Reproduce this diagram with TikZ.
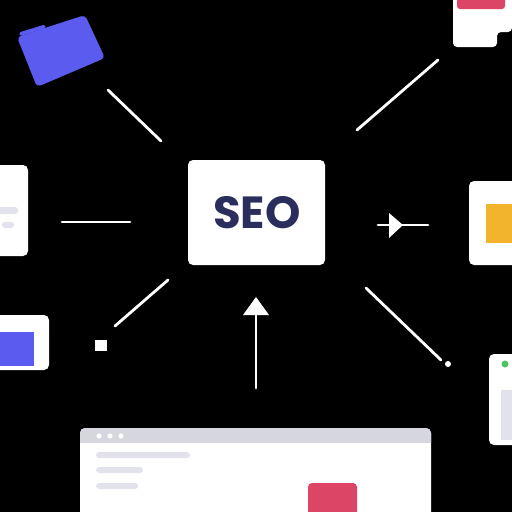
\documentclass[tikz,border=0pt]{standalone}
\usepackage{fontspec}
\setmainfont{Poppins}
\begin{document}
\begin{tikzpicture}[x=1pt,y=-1pt,
  conn/.style={draw=white,line width=2.8pt,line cap=round},
  card/.style={fill=white,rounded corners=5pt},
  bar/.style={fill=barg,rounded corners=3pt}]
\definecolor{folderblue}{HTML}{5B5CEF}
\definecolor{pinkr}{HTML}{DC4566}
\definecolor{navy}{HTML}{2B2E5C}
\definecolor{yell}{HTML}{F1B42C}
\definecolor{barg}{HTML}{E2E2EC}
\definecolor{headg}{HTML}{D6D6DE}
\definecolor{greenc}{HTML}{4CC462}
\useasboundingbox (0,0) rectangle (512,512);
\fill[black] (0,0) rectangle (512,512);
% folder
\fill[folderblue,rounded corners=4pt] (17,37) -- (85,15) -- (105,58) -- (37,87) -- cycle;
\fill[folderblue,rounded corners=1.5pt] (20,36) -- (46,28) -- (44.8,24.5) -- (19,32.5) -- cycle;
% top-right card
\fill[white,rounded corners=4pt] (453,-6) -- (512,-6) -- (512,32) -- (497,32) -- (497,47) -- (453,47) -- cycle;
\fill[pinkr,rounded corners=3pt] (457,-4) rectangle (505,9);
% left middle card
\fill[card] (-10,165) rectangle (28,256);
\fill[bar] (-4,207) rectangle (18,214);
\fill[bar] (2,222) rectangle (14,228);
% right card
\fill[card] (469,181) rectangle (520,265);
\fill[yell] (486,204) rectangle (512,243);
% right bottom card
\fill[card] (489,354) rectangle (520,445);
\fill[greenc] (505,364) circle (3.5pt);
\fill[barg] (501,390) rectangle (512,440);
% left bottom card
\fill[card] (-10,315) rectangle (49,370);
\fill[folderblue] (-2,332) rectangle (34,366);
% SEO box
\node[fill=white,rounded corners=5pt,minimum width=137pt,minimum height=105pt,inner sep=0pt] (seo) at (256.5,212.5) {};
\node[text=navy,font=\fontsize{45}{45}\selectfont\bfseries,inner sep=0pt] (seotext) at (257,213) {SEO};
% connectors
\coordinate (a1) at (108,90); \coordinate (a2) at (161,141);
\draw[conn] (a1) -- (a2);
\coordinate (b1) at (357,130); \coordinate (b2) at (438,60);
\draw[conn] (b1) -- (b2);
\coordinate (c1) at (62,222); \coordinate (c2) at (130,222);
\draw[conn] (c1) -- (c2);
\coordinate (d1) at (378,225); \coordinate (d2) at (428,225);
\draw[conn] (d1) -- (d2);
\coordinate (dt) at (403,225);
\fill[white] (dt) -- (389,213) -- (389,238) -- cycle;
\coordinate (e1) at (366,288); \coordinate (e2) at (441,360);
\draw[conn] (e1) -- (e2);
\fill[white] (448,364) circle (3pt);
\coordinate (f1) at (168,280); \coordinate (f2) at (115,326);
\draw[conn] (f1) -- (f2);
\fill[white] (95,340) rectangle (107,351);
\coordinate (g1) at (256,388); \coordinate (g2) at (256,312);
\draw[conn] (g1) -- (g2);
\fill[white] (256,297) -- (243,315) -- (269,315) -- cycle;
% browser
\fill[white,rounded corners=5pt] (80,428) rectangle (431,520);
\fill[headg,rounded corners=5pt] (80,428) rectangle (431,448);
\fill[white] (80,443) rectangle (431,449);
\foreach \x in {99,110,121} \fill[white] (\x,436) circle (2.6pt);
\fill[bar] (96,452) rectangle (190,458);
\fill[bar] (96,467) rectangle (143,473);
\fill[bar] (96,483) rectangle (138,489);
\fill[pinkr,rounded corners=4pt] (308,483) rectangle (357,520);
\end{tikzpicture}
\end{document}
